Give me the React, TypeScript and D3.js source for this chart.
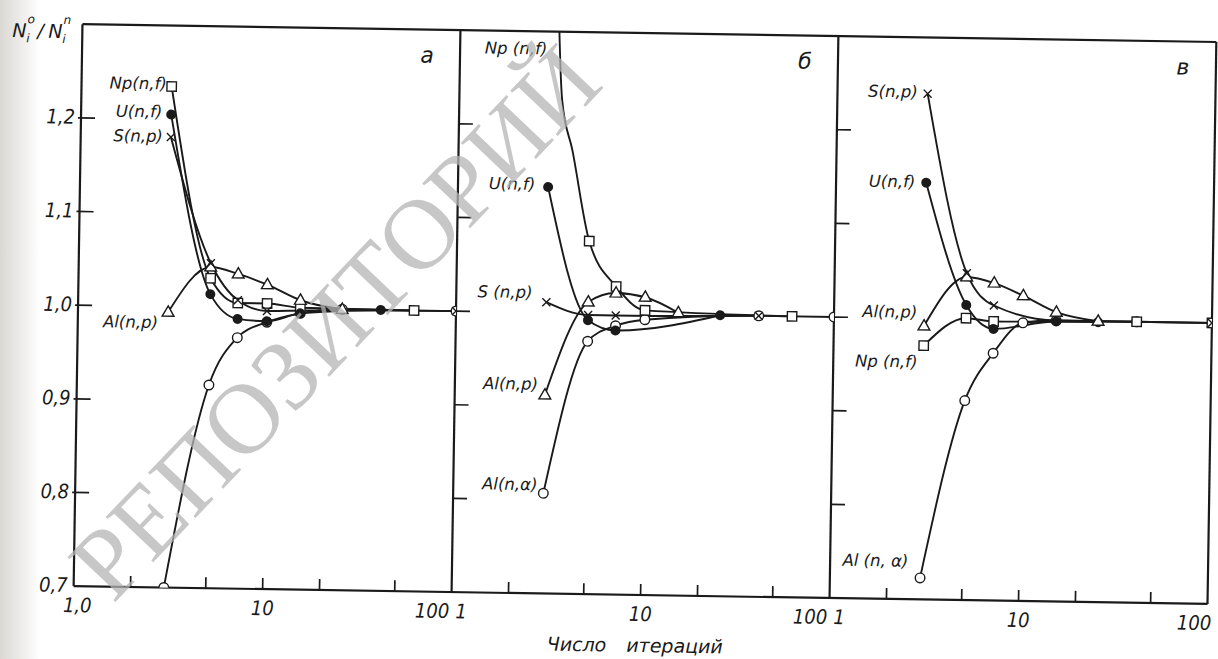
import React from 'react';
import * as d3 from 'd3';

// ---------- data ----------
const PANEL_LETTERS = ['а', 'б', 'в'];
const X_TICKS = [2, 5, 10, 20, 50];
const X_TICK_LABELS = [
  ['1,0', '10', '100'],
  ['1', '10', '100'],
  ['1', '10', '100'],
];
const Y_TICKS = [0.8, 0.9, 1.0, 1.1, 1.2];
const Y_LABEL_VALUES = [0.7, 0.8, 0.9, 1.0, 1.1, 1.2];
const Y_LABELS = ['0,7', '0,8', '0,9', '1,0', '1,1', '1,2'];
const X_TITLE_1 = 'Число';
const X_TITLE_2 = 'итераций';
const WATERMARK = 'РЕПОЗИТОРИЙ';

// panel а
const A_NP_N = [3, 5, 7, 10, 15, 60];
const A_NP_V = [1.235, 1.031, 1.005, 1.005, 1.001, 1.0];
const A_U_N = [3, 5, 7, 10, 15, 40];
const A_U_V = [1.205, 1.014, 0.988, 0.986, 0.995, 1.0];
const A_S_N = [3, 5, 7, 10, 15, 100];
const A_S_V = [1.181, 1.047, 1.008, 0.997, 0.998, 1.0];
const A_ALP_N = [3, 5, 7, 10, 15, 25];
const A_ALP_V = [0.994, 1.043, 1.036, 1.025, 1.009, 1.0];
const A_ALA_N = [3, 5, 7, 10, 15, 25, 100];
const A_ALA_V = [0.7, 0.917, 0.968, 0.985, 0.995, 1.0, 1.0];

// panel б (Np starts off-scale; 3.5 and 4 are points)
const B_NP_N = [3, 3.5, 4, 5, 7, 10, 60];
const B_NP_V = [1.6, 1.227, 1.174, 1.077, 1.029, 1.004, 1.0];
const B_U_N = [3, 5, 7, 25];
const B_U_V = [1.134, 0.9925, 0.982, 1.0];
const B_S_N = [3, 5, 7, 40];
const B_S_V = [1.011, 0.998, 0.998, 1.0];
const B_ALP_N = [3, 5, 7, 10, 15];
const B_ALP_V = [0.912, 1.012, 1.022, 1.018, 1.002];
const B_ALA_N = [3, 5, 7, 10, 40, 100];
const B_ALA_V = [0.807, 0.97, 0.987, 0.994, 1.0, 1.0];

// panel в
const C_S_N = [3, 5, 7, 15, 100];
const C_S_V = [1.24, 1.049, 1.015, 1.0, 1.0];
const C_U_N = [3, 5, 7, 15, 25];
const C_U_V = [1.145, 1.015, 0.99, 0.999, 0.999];
const C_ALP_N = [3, 5, 7, 10, 15, 25];
const C_ALP_V = [0.992, 1.045, 1.039, 1.026, 1.009, 1.0];
const C_NP_N = [3, 5, 7, 40, 100];
const C_NP_V = [0.971, 1.001, 0.998, 1.0, 1.0];
const C_ALA_N = [3, 5, 7, 10, 15, 40];
const C_ALA_V = [0.723, 0.913, 0.964, 0.997, 1.0, 1.0];

type MarkerType = 'open' | 'square' | 'filled' | 'triangle' | 'cross';
interface Series {
  n: number[];
  v: number[];
  marker: MarkerType;
  label: string;
  dx: number;
  dy: number;
  absY?: number;
  hide?: number[];
}

const PANELS: Series[][] = [
  [
    { n: A_ALA_N, v: A_ALA_V, marker: 'open', label: '', dx: 0, dy: 0 },
    { n: A_NP_N, v: A_NP_V, marker: 'square', label: 'Np(n,f)', dx: -5, dy: 3 },
    { n: A_U_N, v: A_U_V, marker: 'filled', label: 'U(n,f)', dx: -9, dy: 3 },
    { n: A_ALP_N, v: A_ALP_V, marker: 'triangle', label: 'Al(n,p)', dx: -10, dy: 16 },
    { n: A_S_N, v: A_S_V, marker: 'cross', label: 'S(n,p)', dx: -8, dy: 5, hide: [15] },
  ],
  [
    { n: B_ALA_N, v: B_ALA_V, marker: 'open', label: 'Al(n,α)', dx: -6, dy: -3 },
    { n: B_NP_N, v: B_NP_V, marker: 'square', label: 'Np (n,f)', dx: -3, dy: 0, absY: 56, hide: [3.5, 4] },
    { n: B_U_N, v: B_U_V, marker: 'filled', label: 'U(n,f)', dx: -13, dy: 3 },
    { n: B_ALP_N, v: B_ALP_V, marker: 'triangle', label: 'Al(n,p)', dx: -7, dy: -5 },
    { n: B_S_N, v: B_S_V, marker: 'cross', label: 'S (n,p)', dx: -14, dy: -4 },
  ],
  [
    { n: C_ALA_N, v: C_ALA_V, marker: 'open', label: 'Al (n, α)', dx: -12, dy: -11 },
    { n: C_NP_N, v: C_NP_V, marker: 'square', label: 'Np (n,f)', dx: -6, dy: 22 },
    { n: C_U_N, v: C_U_V, marker: 'filled', label: 'U(n,f)', dx: -11, dy: 5 },
    { n: C_ALP_N, v: C_ALP_V, marker: 'triangle', label: 'Al(n,p)', dx: -7, dy: -8 },
    { n: C_S_N, v: C_S_V, marker: 'cross', label: 'S(n,p)', dx: -10, dy: 4, hide: [15] },
  ],
];

// ---------- layout ----------
const W = 1218;
const H = 659;
const ROT = 0.9;
const CX = 640;
const CY = 313;
const PANEL_X = [78, 456, 834];
const PW = 378;
const TOP = 33;
const BOTTOM = 595;
const INK = '#1a1a1a';
const NUM_FONT = '"Liberation Sans Narrow", "DejaVu Sans Condensed", sans-serif';
const TXT_FONT = '"DejaVu Sans", "Liberation Sans", sans-serif';
const MARKER_ORDER: MarkerType[] = ['open', 'square', 'filled', 'triangle', 'cross'];

const y = d3.scaleLinear().domain([0.7, 1.3]).range([BOTTOM, TOP]);

function Marker({ type, x, yy }: { type: MarkerType; x: number; yy: number }) {
  const sw = 1.4;
  switch (type) {
    case 'open':
      return <circle cx={x} cy={yy} r={4.8} fill="#fff" stroke={INK} strokeWidth={sw} />;
    case 'filled':
      return <circle cx={x} cy={yy} r={5} fill={INK} />;
    case 'square':
      return <rect x={x - 4.7} y={yy - 4.7} width={9.4} height={9.4} fill="#fff" stroke={INK} strokeWidth={sw} />;
    case 'triangle':
      return (
        <path
          d={`M${x},${yy - 6.3}L${x + 5.9},${yy + 4}L${x - 5.9},${yy + 4}Z`}
          fill="#fff"
          stroke={INK}
          strokeWidth={sw}
        />
      );
    case 'cross':
      return (
        <path
          d={`M${x - 4},${yy - 4}L${x + 4},${yy + 4}M${x - 4},${yy + 4}L${x + 4},${yy - 4}`}
          stroke={INK}
          strokeWidth={sw}
        />
      );
  }
  return null;
}

function Panel({ idx }: { idx: number }) {
  const x0 = PANEL_X[idx];
  const x = d3.scaleLog().domain([1, 100]).range([x0, x0 + PW]);
  const series = PANELS[idx];
  const line = d3
    .line<[number, number]>()
    .x((d) => x(d[0]))
    .y((d) => y(d[1]))
    .curve(d3.curveMonotoneX);
  const clipId = `clip-${idx}`;
  const labels = X_TICK_LABELS[idx];
  return (
    <g>
      <defs>
        <clipPath id={clipId}>
          <rect x={x0} y={TOP} width={PW} height={BOTTOM - TOP} />
        </clipPath>
      </defs>
      {Y_TICKS.map((t) => (
        <line key={t} x1={x0 - (idx === 0 ? 3 : 0)} x2={x0 + 14} y1={y(t)} y2={y(t)} stroke={INK} strokeWidth={1.7} />
      ))}
      {X_TICKS.map((t) => (
        <line key={t} x1={x(t)} x2={x(t)} y1={BOTTOM} y2={BOTTOM - 11} stroke={INK} strokeWidth={1.7} />
      ))}
      <g fontFamily={NUM_FONT} fontStyle="italic" fontSize={20} fill={INK}>
        <text x={x(1) + 4} y={621} textAnchor={idx === 0 ? 'middle' : 'start'}>
          {labels[0]}
        </text>
        <text x={x(10)} y={621} textAnchor="middle">
          {labels[1]}
        </text>
        <text x={x(100) + (idx === 2 ? 4 : -2)} y={621} textAnchor="end">
          {labels[2]}
        </text>
      </g>
      <text
        x={x0 + PW - 33}
        y={66}
        fontFamily={TXT_FONT}
        fontStyle="italic"
        fontSize={22}
        fill={INK}
        textAnchor="middle"
      >
        {PANEL_LETTERS[idx]}
      </text>
      <g clipPath={`url(#${clipId})`}>
        {series.map((s, i) => (
          <path
            key={i}
            d={line(s.n.map((n, k) => [n, s.v[k]] as [number, number])) || ''}
            fill="none"
            stroke={INK}
            strokeWidth={1.9}
          />
        ))}
        {MARKER_ORDER.map((mt) =>
          series
            .filter((s) => s.marker === mt)
            .map((s, i) =>
              s.n.map((n, k) =>
                s.hide && s.hide.includes(n) ? null : (
                  <Marker key={`${mt}-${i}-${k}`} type={mt} x={x(n)} yy={y(s.v[k])} />
                )
              )
            )
        )}
      </g>
      <g fontFamily={TXT_FONT} fontStyle="italic" fontSize={16.5} fill={INK}>
        {series
          .filter((s) => s.label)
          .map((s, i) => {
            const px = x(s.n[0]);
            const py = y(s.v[0]);
            return (
              <text key={i} x={px + s.dx} y={s.absY !== undefined ? s.absY : py + s.dy} textAnchor="end">
                {s.label}
              </text>
            );
          })}
      </g>
    </g>
  );
}

export default function App() {
  return (
    <svg
      width={W}
      height={H}
      viewBox={`0 0 ${W} ${H}`}
      style={{ position: 'absolute', left: 0, top: 0, display: 'block', background: '#fff' }}
    >
      <defs>
        <linearGradient id="scanShade" x1="0" x2="1" y1="0" y2="0">
          <stop offset="0" stopColor="#bdb8b0" stopOpacity={0.55} />
          <stop offset="1" stopColor="#bdb8b0" stopOpacity={0} />
        </linearGradient>
      </defs>
      <rect x={0} y={0} width={W} height={H} fill="#fff" />
      <rect x={0} y={0} width={40} height={H} fill="url(#scanShade)" />
      <g transform={`rotate(${ROT} ${CX} ${CY})`}>
        <g stroke={INK} strokeWidth={2.2} fill="none">
          <line x1={PANEL_X[0]} x2={PANEL_X[2] + PW} y1={TOP} y2={TOP} />
          <line x1={PANEL_X[0]} x2={PANEL_X[2] + PW} y1={BOTTOM} y2={BOTTOM} />
          <line x1={PANEL_X[0]} x2={PANEL_X[0]} y1={TOP} y2={BOTTOM} />
          <line x1={PANEL_X[1]} x2={PANEL_X[1]} y1={TOP} y2={BOTTOM} />
          <line x1={PANEL_X[2]} x2={PANEL_X[2]} y1={TOP} y2={BOTTOM} />
          <line x1={PANEL_X[2] + PW} x2={PANEL_X[2] + PW} y1={TOP} y2={BOTTOM} />
        </g>
        {[0, 1, 2].map((i) => (
          <Panel key={i} idx={i} />
        ))}
        <g fontFamily={NUM_FONT} fontStyle="italic" fontSize={20} fill={INK} textAnchor="end">
          {Y_LABEL_VALUES.map((v, i) => (
            <text key={v} x={PANEL_X[0] - 6} y={y(v) + 6}>
              {Y_LABELS[i]}
            </text>
          ))}
        </g>
        <g fontFamily={TXT_FONT} fontStyle="italic" fill={INK}>
          <text x={8} y={47} fontSize={19}>
            N
          </text>
          <text x={22} y={52} fontSize={12}>
            i
          </text>
          <text x={23} y={33} fontSize={12}>
            o
          </text>
          <text x={33} y={47} fontSize={19}>
            /
          </text>
          <text x={44} y={47} fontSize={19}>
            N
          </text>
          <text x={58} y={52} fontSize={12}>
            i
          </text>
          <text x={59} y={33} fontSize={12}>
            n
          </text>
        </g>
        <text x={640} y={652} fontFamily={TXT_FONT} fontStyle="italic" fontSize={19} fill={INK} textAnchor="middle">
          {X_TITLE_1}
          <tspan dx={20}>{X_TITLE_2}</tspan>
        </text>
      </g>
      <text
        x={335}
        y={322}
        transform="rotate(-46.5 335 322)"
        fontFamily='"Liberation Serif", serif'
        fontSize={100}
        fill="#b4b4b4"
        fillOpacity={0.75}
        textAnchor="middle"
        dominantBaseline="central"
      >
        {WATERMARK}
      </text>
    </svg>
  );
}
